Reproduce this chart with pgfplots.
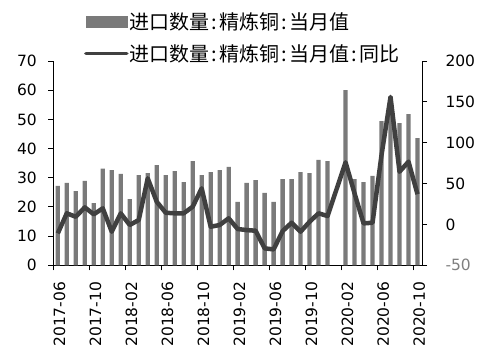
\documentclass[border=0pt]{standalone}
\usepackage{fontspec}
\setmainfont{DejaVu Sans}
\newfontfamily\cjk{Noto Sans CJK SC}
\usepackage{pgfplots}
\pgfplotsset{compat=1.18}
\definecolor{barcol}{HTML}{7A7A7A}
\definecolor{linecol}{HTML}{404040}
\newcommand{\cc}{\makebox[0.5em]{:}}

\pgfplotstableread{
x y
0 27.2
1 28.2
2 25.4
3 28.9
4 21.3
5 33.1
6 32.6
7 31.3
8 22.7
9 30.9
10 31.6
11 34.3
12 30.9
13 32.3
14 28.5
15 35.7
16 30.9
17 31.9
18 32.6
19 33.7
20 21.7
21 28.2
22 29.2
23 24.8
24 21.7
25 29.5
26 29.5
27 31.9
28 31.6
29 36.1
30 35.7
32 60.0
33 29.5
34 28.5
35 30.6
36 49.4
37 57.0
38 48.7
39 51.8
40 43.6
}\bars

\pgfplotstableread{
x y
0 -10.9
1 13.6
2 9.4
3 20.9
4 12.4
5 19.7
6 -8.9
7 13.6
8 -0.7
9 5.4
10 56.4
11 27.8
12 14.3
13 13.6
14 13.6
15 21.7
16 44.2
17 -2.8
18 -0.7
19 7.5
20 -5.6
21 -6.9
22 -7.7
23 -29.3
24 -30.5
25 -8.1
26 2.1
27 -8.9
28 3.3
29 13.6
30 10.3
32 76.0
33 38.0
34 1.3
35 2.1
36 85.0
37 156.0
38 64.5
39 76.8
40 37.0
}\yoy

\pgfplotsset{
  common/.style={
    scale only axis, width=368.7pt, height=204.3pt,
    at={(0,0)}, anchor=south west,
    xmin=-0.5, xmax=40.5,
    axis line style={black, line width=0.9pt},
    tick style={black, line width=0.9pt},
    major tick length=5pt, tick align=outside,
    ticklabel style={font=\fontsize{15.5}{15.5}\selectfont},
    /pgf/number format/assume math mode=true,
  }
}

\begin{document}
\begin{tikzpicture}[x=1pt,y=1pt]
\path[use as bounding box] (-53.3,-92.7) rectangle (431.7,265.3);
% bars, left axis, tick marks at category boundaries
\begin{axis}[common,
  ymin=0, ymax=70, ytick={0,10,...,70},
  axis x line*=bottom, axis y line*=left,
  xtick={-0.5,3.5,...,39.5},
  xticklabels={},
  yticklabel shift=8pt,
  ytick pos=left, xtick pos=bottom,
]
\addplot[ybar, bar width=4.3pt, fill=barcol, draw=none] table[x=x,y=y] {\bars};
\end{axis}
% category labels
\begin{axis}[common,
  ymin=0, ymax=1,
  axis y line=none, axis x line*=bottom,
  axis line style={draw=none}, tick style={draw=none},
  xtick={0.2,4.2,...,40.2},
  xticklabels={2017-06,2017-10,2018-02,2018-06,2018-10,2019-02,2019-06,2019-10,2020-02,2020-06,2020-10},
  x tick label style={rotate=90, anchor=east},
  xticklabel shift=8pt,
  xtick pos=bottom,
]
\end{axis}
% line, right axis
\begin{axis}[common,
  ymin=-50, ymax=200, ytick={-50,0,...,200},
  yticklabels={\textcolor{gray}{-50},0,50,100,150,200},
  yticklabel shift=15pt,
  axis y line*=right, axis x line=none,
  legend style={at={(0.083,1.245)}, anchor=north west, draw=none, fill=none,
    inner sep=0pt, row sep=12pt,
    font=\cjk\fontsize{20}{20}\selectfont,
    nodes={inner sep=1pt}},
  legend cell align=left,
]
\addlegendimage{legend image code/.code={\fill[barcol] (0pt,-5.5pt) rectangle (41pt,5.5pt);}}
\addlegendentry{进口数量\cc 精炼铜\cc 当月值}
\addplot[linecol, line width=4.5pt, line join=round,
  legend image code/.code={\draw[linecol, line width=3.5pt, line cap=round] (0pt,0pt) -- (41pt,0pt);}]
  table[x=x,y=y] {\yoy};
\addlegendentry{进口数量\cc 精炼铜\cc 当月值\cc 同比}
\end{axis}
\end{tikzpicture}
\end{document}
